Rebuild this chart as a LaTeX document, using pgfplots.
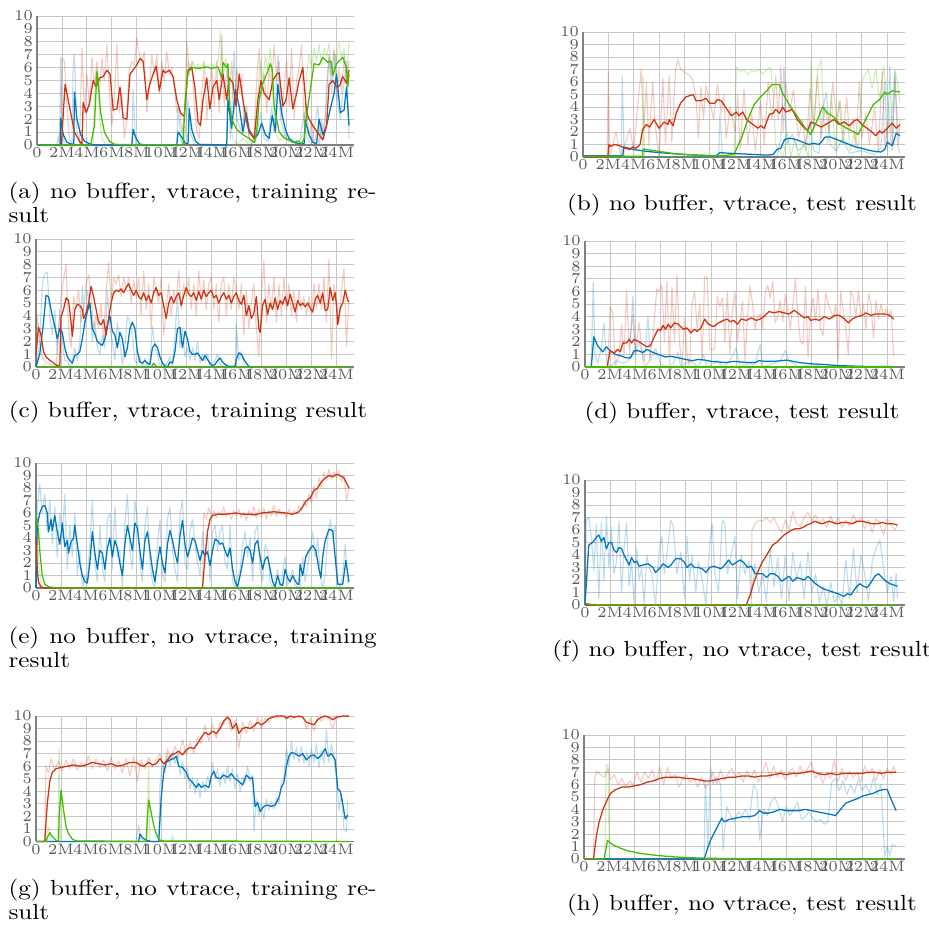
\documentclass[border=0pt]{standalone}
\usepackage{pgfplots}
\pgfplotsset{compat=1.18}
\usepackage{graphicx}
\definecolor{tbred}{RGB}{206,52,18}
\definecolor{tbblue}{RGB}{0,119,187}
\definecolor{tbgreen}{RGB}{68,187,0}
\pgfplotsset{
  tb/.style={scale only axis, anchor=south west, xmin=0, xmax=25.4, ymin=0, ymax=10,
    axis lines=left, axis line style={-, draw=black!50, line width=0.5pt},
    grid=major, major grid style={draw=black!22, line width=0.35pt},
    xtick={0,2,...,24}, xticklabels={0,2M,4M,6M,8M,10M,12M,14M,16M,18M,20M,22M,24M},
    ytick={0,1,...,10}, major tick length=0pt, tick style={draw=none},
    ticklabel style={font=\fontsize{6}{7}\selectfont, text=black!65},
    xticklabel style={inner sep=0.8pt}, yticklabel style={inner sep=1.5pt},
    clip=false, no markers, every axis plot/.append style={line join=round}},
  rr/.style={tbred, line width=0.45pt, opacity=0.25},
  rb/.style={tbblue, line width=0.45pt, opacity=0.25},
  rg/.style={tbgreen, line width=0.45pt, opacity=0.25},
  sr/.style={tbred, line width=0.5pt},
  sb/.style={tbblue, line width=0.5pt},
  sg/.style={tbgreen, line width=0.5pt},
}
\newcommand{\capt}[1]{\scalebox{1}[0.87]{#1}}
\begin{document}
\begin{tikzpicture}
\useasboundingbox (0,0) rectangle (369.24pt,-368.84pt);
% (a)
\begin{axis}[tb, at={(14.71pt,-57.63pt)}, width=126.0pt, height=51.27pt]
\addplot[rr] coordinates {(1.9,0)(2.0,6.7)(2.2,6.5)(2.4,3.0)(2.6,0.5)(2.8,0)(3.4,0)(3.6,7.5)(3.8,2.5)(4.0,5.5)(4.2,3.0)(4.4,6.8)(4.6,4.5)(4.8,6.5)(5.0,4.0)(5.2,6.7)(5.4,5.0)(5.6,7.8)(5.8,4.0)(6.0,1.5)(6.2,3.5)(6.4,7.8)(6.6,2.5)(6.8,4.0)(7.0,0.5)(7.2,2.0)(7.4,6.0)(7.6,6.5)(7.8,6.2)(8.0,8.3)(8.2,7.0)(8.4,6.5)(8.6,7.2)(8.8,2.5)(9.0,4.5)(9.2,7.0)(9.4,5.5)(9.6,7.0)(9.8,4.0)(10.0,6.5)(10.2,5.0)(10.4,7.2)(10.6,5.5)(10.8,6.0)(11.0,4.5)(11.2,2.5)(11.4,3.0)(11.6,1.0)(11.8,2.0)(12.0,8.0)(12.2,5.5)(12.4,6.5)(12.6,3.0)(12.8,1.0)(13.0,0.5)(13.2,4.0)(13.4,6.5)(13.6,2.0)(13.8,4.5)(14.0,6.0)(14.2,3.0)(14.4,6.5)(14.6,2.5)(14.8,8.5)(15.0,3.0)(15.2,6.0)(15.4,4.0)(15.6,6.5)(15.8,2.5)(16.0,6.0)(16.2,4.0)(16.4,5.5)(16.6,1.5)(16.8,3.0)(17.0,0.5)(17.2,0.0)(17.4,0.8)(17.6,5.0)(17.8,7.5)(18.0,4.0)(18.2,5.5)(18.4,2.5)(18.6,6.0)(18.8,4.5)(19.0,7.8)(19.2,5.0)(19.4,6.5)(19.6,2.0)(19.8,4.5)(20.0,6.5)(20.2,3.0)(20.4,7.5)(20.6,2.0)(20.8,5.0)(21.0,6.0)(21.2,7.8)(21.4,1.5)(21.6,3.0)(21.8,0.5)(22.0,2.0)(22.2,0.0)(22.4,1.0)(22.6,0.0)(22.8,2.0)(23.0,0.5)(23.2,4.5)(23.4,7.0)(23.6,5.0)(23.8,7.5)(24.0,3.5)(24.2,6.0)(24.4,4.0)(24.6,7.0)(24.8,4.5)(25.0,6.5)};
\addplot[rb] coordinates {(0,0)(1.6,0)(1.7,0.7)(1.8,0)(1.9,6.8)(2.0,1.0)(2.2,0)(2.8,0)(2.9,6.4)(3.0,7.0)(3.2,1.0)(3.5,0)(7.6,0)(7.7,4.3)(7.9,0)(11.2,0)(11.3,3.0)(11.5,0.5)(11.8,0)(12.1,3.5)(12.3,1.0)(12.6,0)(15.2,0)(15.3,6.0)(15.5,0.5)(15.8,7.3)(16.0,2.0)(16.4,1.0)(16.7,3.0)(17.0,0.5)(17.5,0.2)(17.9,2.5)(18.2,0.5)(18.5,0.3)(18.8,3.0)(19.0,1.0)(19.3,7.0)(19.5,2.0)(20.0,0.5)(20.5,0.2)(21.0,0)(21.4,2.5)(21.6,0.5)(22.0,0.1)(22.5,3.0)(22.7,0.5)(23.1,2.0)(23.4,6.8)(23.6,4.0)(23.9,7.0)(24.1,3.0)(24.3,2.0)(24.5,4.0)(24.8,6.5)(25.0,0.5)};
\addplot[rg] coordinates {(0,0)(4.5,0)(4.6,4.0)(4.8,6.0)(5.0,2.5)(5.2,0.5)(5.5,0)(11.6,0)(11.9,4.0)(12.1,6.5)(12.3,5.8)(12.5,6.5)(12.7,5.7)(12.9,6.3)(13.1,5.8)(13.3,6.4)(13.5,5.9)(13.7,6.2)(13.9,5.8)(14.1,6.3)(14.3,5.9)(14.5,6.5)(14.7,8.8)(14.9,5.0)(15.1,6.7)(15.3,5.8)(15.5,1.5)(15.7,0.5)(16.0,0)(16.5,0.5)(17.0,0)(17.5,0.3)(17.7,4.0)(17.9,6.5)(18.1,5.0)(18.3,7.0)(18.5,5.8)(18.7,7.5)(18.9,4.0)(19.1,1.0)(19.4,0.3)(19.8,0.8)(20.2,0.2)(20.6,0.5)(21.0,0.2)(21.4,1.0)(21.6,5.5)(21.8,7.0)(22.0,6.0)(22.2,7.5)(22.4,6.5)(22.6,7.8)(22.8,6.2)(23.0,7.5)(23.2,6.8)(23.4,7.9)(23.6,5.5)(23.8,7.2)(24.0,6.5)(24.2,8.0)(24.4,6.8)(24.6,7.5)(24.8,5.0)(25.0,8.0)};
\addplot[sb] coordinates {(0,0)(1.85,0)(1.9,2.1)(2.1,0.8)(2.4,0.2)(2.8,0.05)(2.95,0.1)(3.0,4.1)(3.2,2.0)(3.5,0.8)(3.8,0.3)(4.2,0.1)(4.6,0)(7.6,0)(7.7,1.2)(7.9,0.6)(8.2,0.1)(8.5,0)(11.2,0)(11.3,1.0)(11.6,0.6)(11.9,0.1)(12.1,0.1)(12.2,2.8)(12.4,1.2)(12.7,0.3)(13.0,0.05)(15.2,0)(15.3,3.5)(15.6,1.3)(15.9,4.3)(16.2,3.0)(16.5,1.0)(16.75,2.5)(17.0,1.2)(17.4,0.5)(17.7,0.8)(18.0,1.7)(18.3,0.8)(18.6,0.5)(18.85,2.3)(19.1,1.0)(19.3,4.7)(19.6,2.5)(19.9,1.2)(20.2,0.5)(20.6,0.2)(21.0,0.1)(21.4,0.1)(21.5,1.9)(21.8,0.8)(22.1,0.2)(22.4,0.1)(22.6,2.0)(22.9,0.8)(23.2,1.5)(23.5,2.8)(23.8,4.0)(24.0,5.5)(24.3,2.5)(24.6,2.7)(24.8,4.5)(25.0,1.5)};
\addplot[sr] coordinates {(1.95,0)(2.25,4.7)(2.6,3.0)(3.0,1.0)(3.4,0.3)(3.6,0.05)(3.7,3.3)(3.95,2.5)(4.2,3.2)(4.5,5.0)(4.75,4.5)(5.0,5.2)(5.3,5.3)(5.6,5.8)(5.85,5.5)(6.1,2.7)(6.4,2.8)(6.65,4.5)(6.9,2.1)(7.2,2.0)(7.45,5.5)(7.7,5.8)(8.0,6.2)(8.25,6.7)(8.5,6.5)(8.8,3.5)(9.0,4.6)(9.3,5.5)(9.55,6.1)(9.8,4.2)(10.1,5.8)(10.3,5.6)(10.6,5.8)(10.9,5.3)(11.2,3.5)(11.5,2.5)(11.8,2.2)(12.1,5.8)(12.4,6.0)(12.65,4.5)(12.9,1.8)(13.1,1.5)(13.3,3.5)(13.6,5.2)(13.85,2.8)(14.1,4.5)(14.4,5.0)(14.6,3.5)(14.9,5.5)(15.2,3.5)(15.4,5.2)(15.7,4.8)(15.95,3.0)(16.2,5.5)(16.5,3.5)(16.75,2.0)(17.0,1.0)(17.4,0.5)(17.7,3.5)(17.95,5.0)(18.2,4.0)(18.6,3.5)(18.9,5.0)(19.2,5.5)(19.4,5.6)(19.7,3.0)(19.95,3.5)(20.2,5.2)(20.5,2.8)(20.8,4.0)(21.0,5.0)(21.3,6.0)(21.6,2.5)(21.8,2.0)(22.1,1.5)(22.6,0.8)(22.9,0.4)(23.2,1.5)(23.4,4.7)(23.7,5.0)(24.0,4.5)(24.25,4.6)(24.5,5.3)(24.8,4.8)(25.0,5.8)};
\addplot[sg] coordinates {(0,0)(4.3,0)(4.6,1.5)(4.8,5.7)(4.95,4.3)(5.1,2.5)(5.4,1.0)(5.8,0.3)(6.2,0.05)(11.7,0)(11.85,3.0)(12.1,5.7)(12.5,6.0)(13.0,5.95)(13.5,6.05)(14.0,5.95)(14.5,6.05)(14.8,5.2)(14.9,6.4)(15.2,6.0)(15.3,6.3)(15.45,3.0)(15.6,2.0)(16.0,1.2)(16.5,0.8)(17.0,0.5)(17.4,0.2)(17.6,1.0)(17.8,3.5)(18.1,4.8)(18.4,5.5)(18.7,6.3)(18.85,5.8)(19.0,3.0)(19.4,1.0)(19.85,0.5)(20.2,0.4)(20.5,0.2)(20.9,0.3)(21.2,0.1)(21.4,0.5)(21.7,3.0)(22.0,5.0)(22.2,6.3)(22.6,6.2)(22.9,6.8)(23.3,6.4)(23.55,6.5)(23.7,5.4)(24.0,6.3)(24.5,6.8)(24.8,6.0)(24.9,4.5)(25.0,5.5)};
\end{axis}
% (b)
\begin{axis}[tb, at={(231.72pt,-62.40pt)}, width=127.98pt, height=49.68pt]
\addplot[rr] coordinates {(1.9,0)(2.0,6.8)(2.1,0)(2.6,2.0)(3.0,0)(3.7,2.3)(4.0,0.5)(4.4,5.0)(4.6,7.0)(4.8,2.0)(5.0,6.0)(5.2,1.0)(5.5,6.0)(5.7,2.5)(6.0,0)(6.3,6.3)(6.5,1.0)(6.8,6.5)(7.0,1.2)(7.3,7.0)(7.5,7.8)(7.7,7.0)(8.0,6.8)(8.3,6.6)(8.6,6.3)(8.9,5.0)(9.1,1.5)(9.3,5.6)(9.5,3.0)(9.7,5.7)(10.0,4.5)(10.3,3.0)(10.6,5.8)(10.9,3.5)(11.1,5.0)(11.3,1.5)(11.6,4.0)(12.0,2.0)(12.2,5.0)(12.4,0.5)(12.7,5.4)(13.0,1.0)(13.3,3.5)(13.6,0.5)(14.0,4.5)(14.3,1.0)(14.6,6.0)(14.9,3.0)(15.2,6.5)(15.4,3.0)(15.6,7.3)(15.8,2.0)(16.0,6.0)(16.3,3.5)(16.6,5.4)(17.0,1.5)(17.3,3.0)(17.6,0.5)(17.9,5.5)(18.2,2.5)(18.5,6.5)(18.8,1.5)(19.1,4.0)(19.4,2.0)(19.7,6.0)(20.0,3.0)(20.3,4.5)(20.5,1.5)(20.8,4.8)(21.0,2.0)(21.3,3.0)(21.5,0.8)(21.8,6.0)(22.0,1.5)(22.3,3.5)(22.6,1.0)(23.0,4.0)(23.3,0.5)(23.6,6.8)(23.8,1.0)(24.1,3.0)(24.4,0.5)(24.6,6.5)(24.9,1.0)(25.0,3.0)};
\addplot[rb] coordinates {(0,0)(3.0,0)(3.1,6.4)(3.25,0)(10.7,0)(10.8,3.5)(11.0,0)(15.3,0)(15.6,1.5)(15.85,7.2)(16.1,1.0)(16.5,1.8)(17.0,0.5)(17.5,1.0)(17.9,2.8)(18.2,0.5)(18.6,0.3)(19.0,4.3)(19.2,5.2)(19.5,1.0)(20.0,0.5)(20.5,1.5)(21.0,0.3)(22.0,0.5)(23.0,0.2)(23.5,0.8)(23.8,6.0)(24.0,0.5)(24.2,7.2)(24.4,1.0)(24.6,6.8)(24.8,1.0)(25.0,0.3)};
\addplot[rg] coordinates {(0,0)(4.7,0)(4.75,6.4)(4.85,0)(11.9,0)(12.1,7.2)(12.4,6.8)(12.7,7.0)(13.0,6.6)(13.3,6.9)(13.6,6.8)(13.9,7.0)(14.2,6.6)(14.5,7.0)(14.8,7.2)(15.0,5.0)(15.2,1.0)(15.5,0.5)(15.8,0)(16.1,2.0)(16.4,0)(16.7,1.5)(17.0,0)(17.4,1.0)(17.8,0)(18.0,7.6)(18.2,2.0)(18.5,7.0)(18.8,7.8)(19.0,3.0)(19.3,1.0)(19.6,5.0)(19.9,0.5)(20.2,4.5)(20.5,1.0)(20.8,3.0)(21.1,0.5)(21.4,2.0)(21.7,0.5)(22.0,6.0)(22.2,6.5)(22.5,7.0)(22.8,5.5)(23.1,7.0)(23.4,4.5)(23.7,7.2)(24.0,5.0)(24.3,2.0)(24.6,7.0)(24.8,6.0)(25.0,4.3)};
\addplot[sb] coordinates {(0,0.1)(3.15,0.1)(3.2,0.8)(4.0,0.6)(5.0,0.45)(6.0,0.35)(7.0,0.27)(8.0,0.2)(9.0,0.15)(10.5,0.1)(10.8,0.35)(11.5,0.3)(12.5,0.25)(13.5,0.2)(14.5,0.15)(15.0,0.2)(15.3,0.6)(15.6,0.7)(15.9,1.4)(16.3,1.5)(16.8,1.4)(17.3,1.2)(17.8,1.0)(18.2,1.1)(18.6,1.0)(18.8,1.2)(19.1,1.6)(19.5,1.6)(20.0,1.4)(20.5,1.2)(21.0,1.0)(21.5,0.8)(22.0,0.7)(22.5,0.55)(23.0,0.45)(23.5,0.4)(23.8,0.6)(24.0,1.2)(24.4,0.9)(24.7,1.9)(25.0,1.7)};
\addplot[sr] coordinates {(0,0)(1.95,0)(2.05,1.0)(2.15,0.85)(2.5,1.0)(2.9,0.9)(3.3,0.7)(3.7,0.6)(3.9,0.8)(4.2,0.7)(4.5,1.0)(4.7,2.2)(5.0,2.6)(5.25,2.4)(5.6,3.0)(6.0,2.3)(6.4,2.8)(6.7,2.6)(6.8,3.0)(7.1,2.5)(7.35,3.5)(7.7,4.3)(8.1,4.8)(8.7,5.0)(8.9,4.5)(9.3,4.5)(9.7,4.7)(10.0,4.3)(10.4,4.3)(10.6,4.6)(10.9,4.5)(11.3,3.9)(11.7,3.3)(12.1,3.6)(12.3,3.3)(12.6,3.6)(12.9,3.0)(13.4,2.6)(13.8,2.3)(14.0,2.5)(14.3,2.3)(14.7,3.4)(15.0,3.5)(15.2,3.8)(15.5,3.5)(15.75,4.0)(16.0,3.6)(16.5,3.8)(16.9,3.0)(17.3,2.5)(17.7,2.1)(18.0,2.8)(18.4,2.6)(18.8,2.4)(19.3,2.7)(19.8,3.0)(20.2,2.6)(20.6,2.8)(21.0,2.5)(21.4,2.9)(21.65,3.0)(22.0,2.6)(22.4,2.3)(22.8,2.0)(23.1,1.7)(23.4,2.1)(23.6,1.9)(24.0,2.3)(24.4,2.7)(24.7,2.3)(25.0,2.6)};
\addplot[sg] coordinates {(0,0.05)(4.7,0.05)(4.75,0.65)(5.0,0.6)(6.0,0.45)(7.0,0.3)(8.0,0.2)(9.0,0.15)(10.0,0.1)(11.0,0.1)(11.9,0.2)(12.5,1.5)(13.0,3.0)(13.5,4.2)(14.0,4.8)(14.5,5.3)(14.9,5.8)(15.5,5.8)(15.7,5.2)(16.2,4.3)(16.8,3.4)(17.4,2.5)(17.95,1.8)(18.5,3.0)(18.9,4.0)(19.3,3.5)(19.8,3.2)(20.3,2.6)(20.8,2.3)(21.4,2.0)(21.7,1.8)(22.3,3.0)(22.9,4.2)(23.4,4.6)(23.8,5.2)(24.0,5.0)(24.4,5.3)(25.0,5.2)};
\end{axis}
% (c)
\begin{axis}[tb, at={(14.31pt,-145.87pt)}, width=126.39pt, height=50.87pt]
\addplot[rr] coordinates {(0,0)(0.1,4.0)(0.3,2.0)(0.5,0.8)(0.8,0.3)(1.2,0.2)(1.6,0)(2.0,5.5)(2.2,6.8)(2.4,8.0)(2.6,3.0)(2.8,1.5)(3.0,5.5)(3.2,4.5)(3.4,6.0)(3.6,3.5)(3.8,4.5)(4.0,6.5)(4.2,7.2)(4.4,5.5)(4.6,3.0)(4.8,4.0)(5.0,3.0)(5.2,5.0)(5.4,2.0)(5.6,6.0)(5.8,8.2)(6.0,5.0)(6.2,7.0)(6.4,6.5)(6.6,7.2)(6.8,5.5)(7.0,7.0)(7.2,6.0)(7.4,7.0)(7.6,5.0)(7.8,6.8)(8.0,5.5)(8.2,7.0)(8.4,4.0)(8.6,7.5)(8.8,4.5)(9.0,6.5)(9.2,3.0)(9.4,7.0)(9.6,6.0)(9.8,5.0)(10.0,7.0)(10.2,2.5)(10.4,4.5)(10.6,6.5)(10.8,4.0)(11.0,6.0)(11.2,5.0)(11.4,7.5)(11.6,4.5)(11.8,6.5)(12.0,5.5)(12.2,7.0)(12.4,4.5)(12.6,6.5)(12.8,4.0)(13.0,7.5)(13.2,5.0)(13.4,6.8)(13.6,4.5)(13.8,6.5)(14.0,7.0)(14.2,4.5)(14.4,6.5)(14.6,3.5)(14.8,6.5)(15.0,7.0)(15.2,4.0)(15.4,6.5)(15.6,4.5)(15.8,7.0)(16.0,6.0)(16.2,4.5)(16.4,6.5)(16.6,2.5)(16.8,6.0)(17.0,3.0)(17.2,5.0)(17.4,6.5)(17.6,3.0)(17.8,0.8)(18.0,5.5)(18.2,8.3)(18.4,3.5)(18.6,6.5)(18.8,4.5)(19.0,7.0)(19.2,3.5)(19.4,6.5)(19.6,4.0)(19.8,7.0)(20.0,4.5)(20.2,6.5)(20.4,4.0)(20.6,6.0)(20.8,3.5)(21.0,6.0)(21.2,4.5)(21.4,5.5)(21.6,4.0)(21.8,5.5)(22.0,4.0)(22.2,6.5)(22.4,4.5)(22.6,6.5)(22.8,4.5)(23.0,7.0)(23.2,3.5)(23.4,8.4)(23.6,0.7)(23.8,6.5)(24.0,5.0)(24.2,3.5)(24.4,6.0)(24.6,7.7)(24.8,1.6)(25.0,5.5)};
\addplot[rb] coordinates {(0,0)(0.3,2.0)(0.5,6.5)(0.7,7.3)(0.9,7.4)(1.1,4.0)(1.3,2.5)(1.5,4.5)(1.7,1.0)(1.9,4.5)(2.1,2.0)(2.3,0.5)(2.5,0.5)(2.7,0.0)(2.9,0.5)(3.1,1.5)(3.3,0.5)(3.5,2.0)(3.7,6.3)(3.9,3.0)(4.1,6.0)(4.3,5.0)(4.5,2.0)(4.7,3.5)(4.9,1.5)(5.1,1.0)(5.3,2.5)(5.5,1.5)(5.7,6.0)(5.9,3.0)(6.1,2.0)(6.3,0.5)(6.5,3.5)(6.7,2.0)(6.9,0.2)(7.1,1.5)(7.3,4.0)(7.5,3.5)(7.7,2.5)(7.9,0.5)(8.1,0.3)(8.3,0.8)(8.5,0.0)(8.7,0.7)(8.9,0.0)(9.1,0.5)(9.3,3.2)(9.5,1.5)(9.7,1.0)(9.9,0.0)(10.1,0.3)(10.3,0.0)(10.7,0.8)(10.9,0.0)(11.1,2.5)(11.3,5.5)(11.5,1.5)(11.7,3.0)(11.9,0.8)(12.1,1.5)(12.3,0.5)(12.5,1.5)(12.7,0.5)(12.9,2.0)(13.1,0.3)(13.3,1.0)(13.5,0.5)(13.7,1.0)(13.9,0.0)(14.3,0.5)(14.5,1.0)(14.7,0.2)(15.0,0.0)(15.9,0.0)(16.0,3.3)(16.2,0.5)(16.4,1.2)(16.6,0.3)(16.8,0.0)(17.2,0.0)};
\addplot[sb] coordinates {(0,0)(0.3,1.0)(0.6,3.5)(0.8,5.6)(1.0,5.5)(1.3,4.0)(1.5,3.2)(1.7,2.2)(1.9,3.0)(2.1,2.7)(2.3,1.5)(2.5,0.8)(2.7,0.5)(2.9,0.3)(3.1,0.9)(3.3,1.0)(3.5,1.2)(3.7,2.2)(3.9,3.5)(4.1,4.3)(4.3,5.0)(4.5,3.0)(4.7,2.6)(4.9,2.0)(5.1,1.8)(5.3,1.7)(5.5,2.2)(5.7,3.3)(5.9,4.0)(6.1,2.8)(6.3,2.5)(6.5,1.5)(6.7,2.7)(6.9,2.2)(7.1,0.8)(7.3,1.5)(7.5,3.0)(7.7,3.5)(7.9,3.0)(8.1,1.2)(8.3,0.4)(8.5,0.3)(8.7,0.5)(8.9,0.3)(9.1,0.2)(9.3,1.5)(9.5,1.8)(9.7,1.5)(9.9,0.8)(10.1,0.3)(10.3,0.1)(10.5,0.0)(10.7,0.4)(10.9,0.3)(11.1,1.2)(11.3,3.0)(11.5,3.1)(11.7,1.5)(11.9,2.8)(12.1,2.2)(12.3,1.2)(12.5,1.0)(12.7,1.0)(12.9,1.1)(13.1,0.8)(13.3,0.5)(13.5,0.9)(13.7,0.6)(13.9,0.3)(14.1,0.1)(14.3,0.2)(14.5,0.5)(14.7,0.7)(14.9,0.4)(15.1,0.2)(15.4,0.05)(15.9,0.05)(16.0,0.6)(16.2,1.1)(16.4,1.0)(16.6,0.6)(16.8,0.3)(17.0,0.05)(17.3,0.0)};
\addplot[sr] coordinates {(0,1.0)(0.2,3.1)(0.4,2.5)(0.6,1.2)(0.8,0.8)(1.0,0.6)(1.3,0.4)(1.6,0.15)(1.9,0.1)(2.0,3.9)(2.2,4.5)(2.4,5.4)(2.6,5.2)(2.8,3.5)(2.9,2.4)(3.1,4.5)(3.3,4.9)(3.5,4.8)(3.7,4.5)(3.8,3.8)(4.0,4.2)(4.2,5.0)(4.4,6.3)(4.6,5.5)(4.8,4.5)(5.0,3.5)(5.2,3.3)(5.4,3.7)(5.6,2.5)(5.8,3.8)(6.0,5.0)(6.2,5.8)(6.4,6.0)(6.6,5.9)(6.8,6.1)(7.0,5.8)(7.2,6.2)(7.4,6.5)(7.6,6.0)(7.8,5.6)(8.0,6.0)(8.2,5.5)(8.4,5.3)(8.6,5.8)(8.8,5.2)(9.0,5.6)(9.2,5.0)(9.4,5.8)(9.6,6.2)(9.8,5.6)(10.0,5.8)(10.2,4.8)(10.4,3.8)(10.6,5.0)(10.8,5.5)(11.0,5.0)(11.2,5.5)(11.4,5.8)(11.6,4.8)(11.8,5.6)(12.0,6.2)(12.2,5.7)(12.4,5.5)(12.6,5.8)(12.8,5.2)(13.0,5.9)(13.2,5.3)(13.4,6.0)(13.6,5.5)(13.8,5.8)(14.0,6.0)(14.2,5.4)(14.4,5.6)(14.6,5.0)(14.8,5.5)(15.0,5.8)(15.2,5.3)(15.4,5.6)(15.6,5.0)(15.8,5.5)(16.0,5.8)(16.2,5.2)(16.4,4.9)(16.6,5.6)(16.8,4.0)(17.0,4.8)(17.2,3.8)(17.4,4.2)(17.6,5.5)(17.8,3.0)(17.9,2.7)(18.1,4.8)(18.3,5.3)(18.5,4.1)(18.7,5.0)(18.9,4.5)(19.1,5.4)(19.3,4.5)(19.5,5.2)(19.7,4.9)(19.9,5.5)(20.1,4.8)(20.3,5.7)(20.5,5.0)(20.7,4.3)(20.9,5.2)(21.1,4.8)(21.3,5.0)(21.5,4.7)(21.7,5.0)(21.9,4.6)(22.1,4.3)(22.3,5.3)(22.5,5.6)(22.7,5.0)(22.9,5.8)(23.1,4.4)(23.3,4.5)(23.5,6.2)(23.7,5.2)(23.9,5.8)(24.0,4.8)(24.1,3.3)(24.3,4.6)(24.5,5.0)(24.7,6.0)(24.9,5.2)(25.0,5.1)};
\addplot[sg] coordinates {(0,0)(9.2,0)(9.4,0.3)(9.6,0.05)(9.8,0)(25.0,0)};
\end{axis}
% (d)
\begin{axis}[tb, at={(232.51pt,-145.87pt)}, width=127.19pt, height=50.08pt]
\addplot[rr] coordinates {(1.8,0)(2.0,4.8)(2.2,4.3)(2.4,0)(2.7,1.0)(2.9,3.4)(3.1,1.0)(3.3,6.1)(3.5,1.5)(3.8,4.2)(4.0,1.0)(4.3,3.5)(4.6,0.5)(4.8,0)(5.1,0.5)(5.4,2.5)(5.7,6.2)(5.9,6.0)(6.1,6.5)(6.3,2.0)(6.5,6.8)(6.7,0.3)(6.9,6.3)(7.1,2.0)(7.3,7.3)(7.5,2.0)(7.7,0.0)(7.9,3.9)(8.1,1.0)(8.3,0)(8.5,5.0)(8.7,6.0)(8.9,3.0)(9.1,5.0)(9.3,0.5)(9.5,7.2)(9.7,7.1)(9.9,1.5)(10.1,1.3)(10.3,1.5)(10.5,5.6)(10.7,4.8)(10.9,5.5)(11.1,2.0)(11.3,6.0)(11.5,1.0)(11.7,4.5)(11.9,6.0)(12.1,2.0)(12.3,3.5)(12.5,5.2)(12.7,0.5)(12.9,4.0)(13.1,6.4)(13.3,5.0)(13.5,3.0)(13.7,4.0)(13.9,4.2)(14.1,3.0)(14.3,5.8)(14.5,6.5)(14.7,5.5)(14.9,6.8)(15.1,3.5)(15.3,4.0)(15.5,5.3)(15.7,3.6)(15.9,5.8)(16.1,4.5)(16.3,3.0)(16.5,5.0)(16.7,7.0)(16.9,4.0)(17.1,2.0)(17.3,1.8)(17.5,6.4)(17.7,0.8)(17.9,4.2)(18.1,5.5)(18.3,3.6)(18.5,6.2)(18.7,3.0)(18.9,2.5)(19.1,5.9)(19.3,5.0)(19.5,4.5)(19.7,3.8)(19.9,5.0)(20.1,0.5)(20.3,6.0)(20.5,4.5)(20.7,3.0)(20.9,1.0)(21.1,6.0)(21.3,5.5)(21.5,4.0)(21.7,6.0)(21.9,4.0)(22.1,5.0)(22.3,3.0)(22.5,5.8)(22.7,5.0)(22.9,2.3)(23.1,5.3)(23.3,3.8)(23.5,5.0)(23.7,4.0)(23.9,4.6)(24.1,4.0)(24.3,4.5)(24.5,0.8)};
\addplot[rb] coordinates {(0.5,0)(0.65,6.7)(0.8,1.0)(1.0,0.3)(1.3,1.5)(1.5,3.5)(1.7,0.5)(2.0,0)(2.5,0.5)(3.0,0.3)(3.5,0.5)(3.8,5.6)(4.0,1.0)(4.3,2.0)(4.7,0.5)(5.0,4.0)(5.2,0.5)(5.6,1.5)(6.0,0.2)(6.5,0.0)(7.0,0.3)(7.4,1.2)(7.6,0.0)(8.3,0.5)(9.0,0.0)(9.4,1.0)(9.7,0.0)(10.5,0.5)(11.0,0.0)(11.5,0.5)(12.0,1.5)(12.3,0.0)(13.0,0.3)(13.5,0.2)(13.9,1.8)(14.1,0.0)(15.0,0.3)(15.5,0.5)(15.9,1.3)(16.2,0.5)(17.0,0.0)(18.0,0.2)(19.0,0.0)(24.5,0)};
\addplot[sb] coordinates {(0,0)(0.5,0)(0.7,2.4)(1.0,1.7)(1.4,1.2)(1.7,1.6)(2.0,1.3)(2.4,1.0)(2.8,0.9)(3.2,0.75)(3.6,0.7)(3.9,1.3)(4.2,1.3)(4.6,1.15)(4.9,1.4)(5.3,1.2)(5.8,1.0)(6.4,0.8)(6.8,0.85)(7.3,0.75)(8.0,0.6)(8.5,0.5)(9.0,0.6)(9.5,0.55)(10.0,0.45)(10.6,0.4)(11.2,0.35)(11.8,0.45)(12.4,0.4)(13.0,0.35)(13.5,0.35)(13.8,0.5)(14.3,0.45)(15.0,0.45)(15.6,0.5)(16.0,0.55)(16.5,0.45)(17.0,0.35)(17.5,0.3)(18.0,0.25)(19.0,0.2)(20.0,0.12)(21.0,0.08)(22.0,0.05)(24.5,0.03)};
\addplot[sr] coordinates {(0,0)(1.75,0)(2.0,1.3)(2.3,1.1)(2.6,1.4)(2.8,1.2)(3.0,1.9)(3.3,1.9)(3.5,2.2)(3.7,1.9)(3.9,2.2)(4.3,2.0)(4.6,1.8)(4.9,1.6)(5.2,1.7)(5.5,2.4)(5.8,3.0)(6.0,2.9)(6.2,3.3)(6.4,3.0)(6.6,3.4)(6.8,3.1)(7.1,3.5)(7.4,3.4)(7.8,3.0)(8.1,3.1)(8.4,2.7)(8.7,3.0)(8.9,2.8)(9.2,3.1)(9.5,3.8)(9.8,3.4)(10.2,3.2)(10.6,3.5)(11.0,3.7)(11.3,3.8)(11.5,3.6)(11.8,3.7)(12.1,3.4)(12.4,3.8)(12.8,3.7)(13.2,3.9)(13.6,3.7)(13.9,3.8)(14.2,4.0)(14.6,4.4)(15.0,4.3)(15.4,4.4)(15.8,4.3)(16.2,4.2)(16.6,4.5)(17.0,4.2)(17.4,3.9)(17.7,4.0)(17.9,3.7)(18.3,3.8)(18.6,3.7)(19.0,4.0)(19.4,3.8)(19.8,4.1)(20.2,4.1)(20.6,3.8)(20.9,3.5)(21.2,3.8)(21.6,4.0)(22.0,4.1)(22.3,4.3)(22.7,4.1)(23.0,4.2)(23.4,4.2)(23.8,4.2)(24.2,4.1)(24.5,3.8)};
\addplot[sg] coordinates {(0,0)(24.5,0)};
\end{axis}
% (e)
\begin{axis}[tb, at={(14.31pt,-233.71pt)}, width=126.39pt, height=49.68pt]
\addplot[rr] coordinates {(0,4.0)(0.1,1.0)(0.3,0)(13.3,0)(13.4,6.0)(13.6,5.5)(13.8,6.4)(14.0,5.7)(14.2,6.2)(14.4,5.6)(14.6,6.1)(14.8,5.8)(15.0,6.5)(15.2,5.7)(15.4,6.0)(15.6,5.5)(15.8,6.2)(16.0,5.8)(16.2,6.3)(16.4,5.6)(16.6,6.1)(16.8,5.4)(17.0,6.2)(17.2,5.8)(17.4,6.5)(17.6,5.6)(17.8,6.3)(18.0,5.7)(18.2,6.4)(18.4,5.5)(18.6,6.2)(18.8,5.8)(19.0,6.6)(19.2,5.7)(19.4,6.3)(19.6,5.9)(19.8,6.1)(20.0,5.6)(20.2,6.3)(20.4,5.8)(20.6,6.2)(20.8,5.9)(21.0,6.6)(21.2,6.2)(21.4,7.0)(21.6,6.5)(21.8,7.5)(22.0,6.8)(22.2,8.2)(22.4,7.2)(22.6,8.8)(22.8,8.0)(23.0,9.3)(23.2,8.6)(23.4,9.5)(23.6,8.7)(23.8,9.3)(24.0,8.8)(24.2,9.4)(24.4,8.5)(24.6,9.0)(24.8,7.0)(25.0,8.0)};
\addplot[rb] coordinates {(0,0)(0.1,6.5)(0.3,8.3)(0.5,6.0)(0.7,7.5)(0.9,4.5)(1.1,7.0)(1.3,3.5)(1.5,6.5)(1.7,2.5)(1.9,6.0)(2.1,4.0)(2.3,7.5)(2.5,1.5)(2.7,5.0)(2.9,2.5)(3.1,6.0)(3.3,1.0)(3.5,3.0)(3.7,0.0)(3.9,1.0)(4.1,0.5)(4.3,3.5)(4.5,7.0)(4.7,2.0)(4.9,0.5)(5.1,5.0)(5.3,1.5)(5.5,0.5)(5.7,5.5)(5.9,6.0)(6.1,1.5)(6.3,6.5)(6.5,2.5)(6.7,3.0)(6.9,0.0)(7.1,5.0)(7.3,7.5)(7.5,3.0)(7.7,1.5)(7.9,7.0)(8.1,5.5)(8.3,2.0)(8.5,0.5)(8.7,5.0)(8.9,6.5)(9.1,2.0)(9.3,0.5)(9.5,0.0)(9.7,3.5)(9.9,5.5)(10.1,1.0)(10.3,0.5)(10.5,5.5)(10.7,6.5)(10.9,3.0)(11.1,1.5)(11.3,0.5)(11.5,6.0)(11.7,7.0)(11.9,2.0)(12.1,1.5)(12.3,4.5)(12.5,5.5)(12.7,3.5)(12.9,2.0)(13.1,1.0)(13.3,4.5)(13.5,2.0)(13.7,4.5)(13.9,0.5)(14.1,4.5)(14.3,5.0)(14.5,3.0)(14.7,4.5)(14.9,5.0)(15.1,2.0)(15.3,1.5)(15.5,5.0)(15.7,0.5)(15.9,0.0)(16.3,1.5)(16.5,3.5)(16.7,4.5)(16.9,2.5)(17.1,4.0)(17.3,0.5)(17.5,4.5)(17.7,5.0)(17.9,1.5)(18.1,0.5)(18.3,3.5)(18.5,3.0)(18.7,0.5)(18.9,0.0)(19.3,1.5)(19.5,0.0)(19.9,2.5)(20.1,0.2)(20.5,1.5)(20.7,0.2)(21.1,0.0)(21.3,2.5)(21.5,0.5)(21.9,3.0)(22.1,4.5)(22.3,2.5)(22.5,4.0)(22.7,1.0)(22.9,0.0)(23.1,1.0)(23.3,4.0)(23.5,5.5)(23.7,4.0)(23.9,5.0)(24.1,0.5)(24.3,0.0)(24.5,1.0)(24.7,3.5)(24.9,0.3)};
\addplot[rg] coordinates {(0,6.2)(0.1,4.5)(0.2,2.0)(0.4,0.5)(0.6,0)};
\addplot[sb] coordinates {(0,0)(0.1,5.0)(0.3,6.0)(0.5,6.5)(0.7,6.6)(0.9,6.0)(1.0,4.5)(1.2,5.5)(1.3,4.6)(1.5,5.8)(1.7,4.5)(1.9,3.5)(2.1,5.2)(2.3,3.3)(2.5,3.8)(2.6,2.8)(2.8,3.7)(3.0,4.0)(3.1,5.0)(3.3,3.5)(3.5,2.0)(3.7,1.0)(3.9,0.5)(4.1,0.4)(4.3,2.0)(4.5,4.5)(4.7,2.8)(4.9,1.5)(5.1,3.0)(5.3,2.8)(5.5,1.5)(5.7,3.2)(5.9,4.0)(6.1,2.5)(6.3,3.8)(6.5,3.2)(6.7,2.0)(6.9,1.0)(7.1,3.5)(7.3,5.0)(7.5,4.0)(7.7,3.0)(7.9,5.2)(8.1,4.8)(8.3,3.0)(8.5,1.5)(8.7,3.8)(8.9,4.5)(9.1,3.0)(9.3,1.5)(9.5,0.5)(9.7,2.0)(9.9,3.3)(10.1,2.0)(10.3,1.2)(10.5,3.5)(10.7,4.6)(10.9,3.8)(11.1,2.8)(11.3,2.0)(11.5,4.2)(11.7,5.4)(11.9,3.5)(12.1,2.5)(12.3,3.2)(12.5,4.0)(12.7,3.8)(12.9,3.0)(13.1,2.2)(13.3,3.0)(13.5,2.6)(13.7,2.9)(13.9,1.8)(14.1,3.0)(14.3,3.9)(14.5,3.8)(14.7,3.5)(14.9,3.6)(15.1,3.0)(15.3,2.5)(15.5,3.2)(15.7,1.5)(15.9,0.5)(16.1,0.1)(16.3,1.0)(16.5,2.0)(16.7,3.2)(16.9,3.3)(17.1,3.0)(17.3,2.0)(17.5,3.5)(17.7,3.8)(17.9,2.5)(18.1,1.5)(18.3,2.3)(18.5,2.5)(18.7,1.5)(18.9,0.5)(19.1,0.1)(19.3,1.0)(19.5,0.3)(19.7,0.2)(19.9,1.5)(20.1,0.8)(20.3,0.5)(20.5,1.0)(20.7,0.6)(20.9,0.3)(21.0,0.3)(21.1,1.9)(21.3,1.0)(21.55,2.5)(21.8,3.0)(22.1,3.4)(22.35,3.0)(22.6,1.5)(22.75,0.8)(22.9,2.5)(23.1,3.8)(23.4,4.7)(23.7,4.6)(23.8,3.5)(24.1,0.3)(24.5,0.3)(24.75,2.2)(25.0,0.5)};
\addplot[sr] coordinates {(0,4.1)(0.1,1.5)(0.2,0.5)(0.4,0.1)(0.7,0)(13.3,0)(13.5,2.5)(13.7,4.5)(13.9,5.5)(14.1,5.8)(14.5,5.9)(15.0,5.9)(15.5,5.95)(16.0,6.0)(16.5,5.9)(17.0,5.9)(17.5,5.85)(18.0,6.0)(18.5,6.05)(19.0,6.1)(19.5,6.05)(20.0,6.0)(20.5,5.9)(21.0,6.1)(21.3,6.5)(21.6,7.0)(21.9,7.2)(22.2,7.8)(22.5,8.0)(22.8,8.5)(23.1,8.8)(23.4,9.0)(23.7,8.9)(24.0,9.1)(24.3,9.0)(24.6,8.8)(24.8,8.4)(25.0,8.0)};
\addplot[sg] coordinates {(0,5.6)(0.1,5.5)(0.2,4.5)(0.3,3.0)(0.5,1.0)(0.7,0.3)(1.0,0.1)(1.5,0.03)(2.0,0)(25.0,0)};
\end{axis}
% (f)
\begin{axis}[tb, at={(232.51pt,-240.46pt)}, width=127.19pt, height=49.68pt]
\addplot[rr] coordinates {(0,0)(13.2,0)(13.25,6.0)(13.5,6.5)(13.8,6.8)(14.1,6.7)(14.4,7.0)(14.7,6.6)(15.0,7.0)(15.3,6.3)(15.6,5.8)(15.9,6.8)(16.2,6.0)(16.5,7.5)(16.8,6.5)(17.1,6.3)(17.4,7.0)(17.7,7.4)(18.0,6.7)(18.3,7.2)(18.6,6.5)(18.9,6.9)(19.2,6.2)(19.5,7.1)(19.8,6.4)(20.1,7.0)(20.4,6.2)(20.7,6.8)(21.0,6.3)(21.3,7.2)(21.6,6.6)(21.9,7.0)(22.2,6.1)(22.5,6.8)(22.8,5.8)(23.1,6.9)(23.4,6.5)(23.7,5.6)(24.0,6.9)(24.3,6.4)(24.6,6.0)(24.8,6.4)};
\addplot[rb] coordinates {(0,0)(0.1,6.8)(0.3,7.0)(0.5,5.5)(0.7,2.8)(0.9,6.5)(1.1,0.5)(1.3,6.6)(1.5,2.0)(1.7,7.1)(1.9,3.0)(2.1,6.2)(2.3,2.5)(2.5,3.5)(2.7,6.7)(2.9,1.0)(3.1,4.5)(3.3,6.6)(3.5,1.5)(3.7,3.5)(3.9,0.0)(4.1,4.6)(4.3,2.0)(4.5,3.0)(4.7,0.0)(4.9,4.0)(5.1,3.0)(5.3,2.5)(5.6,0.0)(5.9,4.5)(6.1,5.5)(6.3,2.5)(6.5,4.0)(6.8,6.8)(7.0,6.3)(7.3,2.5)(7.6,4.2)(7.9,0.5)(8.1,5.5)(8.3,2.0)(8.5,4.0)(8.8,1.0)(9.0,3.5)(9.3,2.0)(9.6,0.0)(9.9,5.0)(10.1,6.5)(10.3,2.5)(10.6,1.0)(10.9,6.8)(11.1,6.5)(11.3,2.5)(11.6,4.0)(11.9,5.5)(12.1,0.5)(12.4,4.0)(12.7,2.5)(13.0,3.5)(13.2,0.5)(13.5,3.3)(13.8,1.0)(14.1,2.5)(14.4,0.3)(14.7,4.5)(15.0,1.5)(15.3,3.8)(15.6,0.5)(15.9,4.0)(16.2,0.3)(16.5,4.2)(16.8,2.0)(17.1,3.5)(17.4,0.5)(17.7,4.3)(18.0,1.0)(18.3,2.5)(18.6,0.2)(18.9,1.5)(19.2,0.0)(19.5,1.8)(19.8,0.2)(20.1,0.8)(20.4,0.0)(20.7,3.6)(21.0,0.5)(21.3,4.5)(21.6,1.0)(21.9,4.0)(22.2,2.5)(22.5,0.3)(22.8,3.5)(23.1,4.5)(23.4,5.2)(23.7,3.0)(24.0,1.0)(24.3,2.3)(24.5,0.3)(24.7,2.5)(24.8,0.5)};
\addplot[sb] coordinates {(0,0)(0.3,4.8)(0.6,5.0)(0.9,5.4)(1.1,5.6)(1.3,5.1)(1.5,5.4)(1.7,4.5)(1.9,5.0)(2.1,5.0)(2.3,4.4)(2.5,4.2)(2.7,4.6)(2.9,4.5)(3.1,4.0)(3.3,3.6)(3.5,3.2)(3.7,3.8)(3.9,3.4)(4.1,3.5)(4.3,3.1)(4.6,3.2)(5.0,3.3)(5.4,3.0)(5.6,2.6)(5.9,2.9)(6.2,3.3)(6.6,3.0)(6.9,3.3)(7.2,3.7)(7.6,3.7)(7.9,3.4)(8.1,3.0)(8.4,3.3)(8.7,3.0)(9.0,3.0)(9.3,2.9)(9.6,2.6)(9.9,3.0)(10.2,3.1)(10.5,3.0)(10.8,2.9)(11.1,3.2)(11.4,3.6)(11.7,3.2)(12.0,3.4)(12.3,3.6)(12.6,3.4)(12.9,3.0)(13.2,3.1)(13.5,2.5)(13.8,2.5)(14.1,2.5)(14.4,2.2)(14.7,2.5)(15.0,2.5)(15.3,2.3)(15.6,1.9)(15.9,2.1)(16.2,2.3)(16.5,1.9)(16.8,2.2)(17.1,2.1)(17.4,2.0)(17.7,2.3)(18.0,2.0)(18.3,1.7)(18.6,1.5)(18.9,1.3)(19.2,1.2)(19.5,1.1)(19.8,1.0)(20.1,0.9)(20.4,0.75)(20.6,0.7)(20.8,0.9)(21.1,0.8)(21.5,1.4)(21.8,1.7)(22.1,1.5)(22.4,1.4)(22.7,1.8)(23.0,2.3)(23.3,2.5)(23.6,2.2)(23.9,1.9)(24.2,1.7)(24.5,1.6)(24.8,1.5)};
\addplot[sr] coordinates {(0,0)(12.8,0)(13.1,0.8)(13.4,1.8)(13.7,2.6)(14.0,3.3)(14.3,3.8)(14.6,4.3)(14.9,4.8)(15.2,5.0)(15.5,5.3)(15.8,5.6)(16.1,5.8)(16.4,6.0)(16.7,6.1)(17.0,6.1)(17.3,6.2)(17.6,6.4)(17.9,6.5)(18.2,6.7)(18.5,6.6)(18.8,6.5)(19.1,6.6)(19.4,6.7)(19.7,6.6)(20.0,6.5)(20.4,6.6)(20.8,6.6)(21.2,6.5)(21.6,6.7)(22.0,6.7)(22.4,6.6)(22.8,6.5)(23.2,6.5)(23.6,6.6)(24.0,6.5)(24.4,6.5)(24.8,6.4)};
\addplot[sg] coordinates {(0,0.15)(0.2,0.1)(0.5,0.05)(1.0,0.02)(24.8,0)};
\end{axis}
% (g)
\begin{axis}[tb, at={(14.31pt,-334.46pt)}, width=126.39pt, height=49.88pt]
\addplot[rr] coordinates {(0.7,0)(0.8,6.0)(1.0,5.5)(1.2,6.6)(1.5,5.7)(1.8,6.4)(2.1,5.6)(2.4,6.5)(2.7,5.8)(3.0,6.6)(3.3,5.7)(3.6,6.3)(3.9,5.9)(4.2,6.8)(4.5,5.8)(4.8,6.6)(5.1,5.9)(5.4,6.5)(5.7,5.6)(6.0,6.7)(6.3,5.8)(6.6,6.4)(6.9,5.5)(7.2,6.6)(7.5,5.2)(7.8,6.8)(8.1,4.8)(8.4,6.5)(8.7,5.8)(9.0,6.7)(9.3,5.9)(9.6,6.5)(9.9,7.0)(10.2,5.8)(10.5,7.4)(10.8,6.5)(11.1,7.6)(11.4,6.7)(11.7,8.1)(12.0,6.9)(12.3,7.9)(12.6,7.0)(12.9,8.3)(13.2,7.8)(13.5,9.3)(13.8,8.0)(14.1,9.4)(14.4,8.2)(14.7,9.5)(15.0,9.3)(15.3,10.0)(15.6,8.8)(15.9,9.7)(16.2,7.4)(16.5,9.5)(16.8,8.6)(17.1,9.6)(17.4,8.8)(17.7,9.9)(18.0,9.0)(18.3,9.8)(18.6,9.5)(18.9,10.0)(19.2,9.8)(19.5,10.0)(19.8,9.9)(20.1,10.0)(20.4,9.7)(20.7,10.0)(21.0,9.9)(21.3,10.0)(21.6,9.0)(21.9,9.8)(22.2,8.8)(22.5,9.9)(22.8,9.6)(23.1,10.0)(23.4,9.8)(23.7,9.0)(24.0,10.0)(24.3,9.9)(24.6,10.0)(24.9,9.9)(25.0,10.0)};
\addplot[rb] coordinates {(8.0,0)(8.2,1.3)(8.4,0.2)(8.8,0)(9.8,0)(9.9,4.5)(10.1,6.0)(10.3,5.5)(10.5,7.0)(10.7,6.0)(10.9,7.2)(11.1,6.2)(11.3,6.9)(11.5,5.3)(11.7,6.4)(11.9,5.0)(12.1,5.9)(12.3,4.2)(12.5,5.1)(12.7,3.8)(12.9,5.0)(13.1,3.5)(13.3,4.8)(13.5,4.0)(13.7,5.2)(13.9,4.5)(14.1,6.3)(14.3,5.0)(14.5,5.8)(14.7,4.4)(14.9,5.6)(15.1,4.6)(15.3,6.0)(15.5,4.8)(15.7,5.8)(15.9,4.2)(16.1,5.4)(16.3,4.0)(16.5,5.2)(16.7,4.6)(16.9,6.0)(17.1,4.8)(17.3,5.3)(17.4,0.8)(17.6,3.4)(17.8,2.0)(18.0,3.0)(18.2,1.8)(18.4,3.4)(18.6,2.5)(18.8,3.2)(19.0,2.6)(19.2,3.5)(19.4,3.0)(19.6,4.8)(19.8,5.0)(20.0,7.5)(20.2,6.0)(20.4,8.0)(20.6,6.5)(20.8,7.5)(21.0,6.3)(21.2,7.6)(21.4,6.2)(21.6,7.2)(21.8,6.0)(22.0,7.4)(22.2,6.3)(22.4,7.8)(22.6,5.9)(22.8,7.3)(23.0,6.2)(23.2,8.9)(23.4,6.3)(23.6,7.8)(23.8,6.5)(24.0,5.0)(24.2,2.5)(24.4,3.8)(24.6,1.0)(24.8,0.8)(24.9,3.2)};
\addplot[rg] coordinates {(0,0)(0.8,0)(1.0,1.2)(1.2,0)(1.75,0)(1.85,7.4)(1.95,0)(8.85,0)(9.0,6.5)(9.1,0)(10.8,0)(10.9,0.5)(11.0,0)(25.0,0)};
\addplot[sb] coordinates {(0,0)(8.2,0)(8.3,0.6)(8.5,0.3)(8.8,0.1)(9.2,0)(9.8,0)(10.0,3.5)(10.2,5.5)(10.4,6.3)(10.7,6.5)(11.0,6.6)(11.2,6.8)(11.4,6.0)(11.7,5.9)(12.0,5.5)(12.2,5.0)(12.5,4.7)(12.8,4.3)(13.0,4.6)(13.2,4.3)(13.5,4.5)(13.8,4.3)(14.0,5.2)(14.2,5.6)(14.4,5.1)(14.7,5.0)(15.0,5.3)(15.3,5.1)(15.6,5.4)(15.9,5.0)(16.2,4.8)(16.5,4.5)(16.8,5.3)(17.1,5.0)(17.3,5.1)(17.5,2.8)(17.7,3.1)(17.9,2.4)(18.2,2.8)(18.5,2.9)(18.8,2.8)(19.1,2.9)(19.4,3.5)(19.6,4.3)(19.8,4.7)(20.0,6.0)(20.2,6.8)(20.4,7.1)(20.7,7.0)(21.0,6.8)(21.3,7.0)(21.6,6.5)(21.9,6.8)(22.2,6.9)(22.5,6.6)(22.8,6.9)(23.1,7.4)(23.3,6.8)(23.6,7.0)(23.9,6.5)(24.1,4.2)(24.3,4.0)(24.5,3.0)(24.7,1.8)(24.9,2.1)};
\addplot[sr] coordinates {(0,0)(0.7,0)(0.9,3.0)(1.1,4.8)(1.3,5.5)(1.6,5.8)(2.0,5.9)(2.5,6.0)(3.0,6.1)(3.5,6.0)(4.0,6.1)(4.5,6.3)(5.0,6.2)(5.5,6.1)(6.0,6.2)(6.5,6.0)(7.0,6.1)(7.5,6.3)(8.0,6.3)(8.3,6.1)(8.6,6.0)(9.0,6.3)(9.3,6.1)(9.6,6.2)(9.9,6.6)(10.2,6.2)(10.5,6.5)(10.8,6.9)(11.1,7.0)(11.4,7.2)(11.7,6.9)(12.0,7.3)(12.3,7.5)(12.6,7.4)(12.9,7.8)(13.2,8.3)(13.5,8.7)(13.8,8.5)(14.1,8.8)(14.4,8.6)(14.7,9.0)(15.0,9.6)(15.3,9.9)(15.5,9.7)(15.7,9.0)(16.0,9.4)(16.2,8.6)(16.5,9.0)(16.8,9.1)(17.1,9.0)(17.4,9.2)(17.7,9.5)(18.0,9.3)(18.3,9.5)(18.6,9.8)(18.9,9.9)(19.2,10.0)(19.5,10.0)(19.8,10.0)(20.0,9.8)(20.3,10.0)(20.6,9.9)(21.0,10.0)(21.3,9.9)(21.6,9.5)(21.9,9.4)(22.2,9.3)(22.5,9.7)(22.8,9.9)(23.1,10.0)(23.4,9.9)(23.7,9.7)(24.0,9.9)(24.5,10.0)(25.0,10.0)};
\addplot[sg] coordinates {(0,0)(0.8,0)(0.9,0.3)(1.1,0.7)(1.3,0.4)(1.6,0.1)(1.8,0.0)(1.85,2.0)(2.0,4.1)(2.2,2.5)(2.4,1.2)(2.6,0.6)(2.9,0.2)(3.2,0.05)(8.8,0)(8.9,2.0)(9.0,3.3)(9.2,2.3)(9.4,1.3)(9.6,0.6)(9.8,0.2)(10.0,0.05)(25.0,0)};
\end{axis}
% (h)
\begin{axis}[tb, at={(232.12pt,-341.42pt)}, width=127.58pt, height=49.29pt]
\addplot[rr] coordinates {(0.75,0)(0.85,6.5)(1.0,7.1)(1.3,6.8)(1.6,6.6)(1.9,7.3)(2.1,6.4)(2.4,6.8)(2.7,6.0)(3.0,6.5)(3.3,5.8)(3.6,6.3)(3.9,6.0)(4.2,7.0)(4.5,6.2)(4.8,7.0)(5.1,6.5)(5.4,7.2)(5.7,6.2)(6.0,7.4)(6.3,6.0)(6.6,7.4)(6.9,6.5)(7.2,6.8)(7.5,5.8)(7.8,6.4)(8.1,6.8)(8.4,6.2)(8.7,6.5)(9.0,5.8)(9.3,6.6)(9.6,5.7)(9.9,6.2)(10.2,7.0)(10.5,6.0)(10.8,7.2)(11.1,6.3)(11.4,6.9)(11.7,7.3)(12.0,6.6)(12.3,7.0)(12.6,6.2)(12.9,7.1)(13.2,6.5)(13.5,7.2)(13.8,6.2)(14.1,7.0)(14.4,7.8)(14.7,6.5)(15.0,7.5)(15.3,6.6)(15.6,7.2)(15.9,6.4)(16.2,7.0)(16.5,7.3)(16.8,6.6)(17.1,7.5)(17.4,6.8)(17.7,7.3)(18.0,7.8)(18.3,6.5)(18.6,6.9)(18.9,6.1)(19.2,7.0)(19.5,6.5)(19.8,8.0)(20.1,6.2)(20.4,7.3)(20.7,6.3)(21.0,7.1)(21.3,6.6)(21.6,7.0)(21.9,6.2)(22.2,7.5)(22.5,6.9)(22.8,7.3)(23.1,6.3)(23.4,7.2)(23.7,6.5)(24.0,7.3)(24.3,6.8)(24.5,7.5)(24.7,6.9)};
\addplot[rb] coordinates {(0,0)(9.5,0)(9.6,6.5)(9.8,0.8)(10.0,7.5)(10.2,6.0)(10.5,6.6)(10.8,6.0)(11.0,0.7)(11.3,4.2)(11.6,3.5)(11.9,3.0)(12.2,3.8)(12.5,3.5)(12.8,4.0)(13.1,3.2)(13.4,6.0)(13.7,5.5)(13.9,1.5)(14.2,4.0)(14.5,3.5)(14.8,4.6)(15.1,5.0)(15.4,4.2)(15.7,3.0)(16.0,4.2)(16.3,3.5)(16.6,4.0)(16.9,4.6)(17.2,3.2)(17.5,3.4)(17.8,3.8)(18.1,3.3)(18.4,3.0)(18.7,3.2)(19.0,2.8)(19.3,3.0)(19.6,6.2)(19.9,6.5)(20.2,5.5)(20.5,6.3)(20.8,5.2)(21.1,6.0)(21.4,5.3)(21.7,6.4)(22.0,5.5)(22.3,6.0)(22.6,5.3)(22.9,6.6)(23.2,5.2)(23.5,6.0)(23.8,0.2)(24.0,1.0)(24.2,0.3)(24.4,1.2)(24.7,1.0)};
\addplot[rg] coordinates {(0,0)(1.65,0)(1.75,7.6)(1.9,7.5)(2.0,0)(24.7,0)};
\addplot[sb] coordinates {(0,0)(9.5,0)(10.0,1.5)(10.5,2.5)(10.9,3.3)(11.1,3.0)(11.5,3.2)(12.0,3.3)(12.5,3.4)(13.0,3.4)(13.5,3.5)(13.9,3.9)(14.2,3.7)(14.6,3.7)(15.0,3.8)(15.5,4.0)(16.0,3.9)(16.5,3.9)(17.0,3.9)(17.5,4.0)(18.0,3.9)(18.5,3.8)(19.0,3.7)(19.5,3.6)(19.9,3.5)(20.3,4.0)(20.7,4.5)(21.2,4.7)(21.7,4.9)(22.1,5.1)(22.5,5.2)(22.9,5.3)(23.3,5.5)(23.7,5.6)(24.0,5.6)(24.3,4.8)(24.7,3.9)};
\addplot[sr] coordinates {(0,0)(0.75,0)(1.0,2.0)(1.2,3.0)(1.5,4.0)(1.8,4.7)(2.1,5.3)(2.5,5.6)(3.0,5.8)(3.5,5.8)(4.0,5.9)(4.5,6.0)(5.0,6.2)(5.5,6.3)(6.0,6.5)(6.5,6.6)(7.0,6.6)(7.5,6.6)(8.0,6.5)(8.5,6.5)(9.0,6.4)(9.5,6.3)(10.0,6.3)(10.5,6.4)(11.0,6.5)(11.5,6.6)(12.0,6.6)(12.5,6.7)(13.0,6.7)(13.5,6.6)(14.0,6.7)(14.5,6.7)(15.0,6.8)(15.5,6.9)(16.0,6.8)(16.5,6.9)(17.0,6.9)(17.5,7.0)(18.0,7.1)(18.5,6.9)(19.0,6.8)(19.5,6.9)(20.0,6.8)(20.5,6.9)(21.0,6.9)(21.5,6.9)(22.0,6.9)(22.5,7.0)(23.0,7.0)(23.5,6.9)(24.0,7.0)(24.7,7.0)};
\addplot[sg] coordinates {(0,0)(1.6,0)(1.85,1.5)(2.2,1.2)(2.8,0.9)(3.5,0.65)(4.5,0.45)(5.5,0.32)(6.5,0.22)(7.5,0.15)(8.5,0.1)(10.0,0.06)(12.0,0.03)(14.0,0.01)(24.7,0)};
\end{axis}
% captions
\node[anchor=base west, inner sep=0] at (3.18pt,-78.70pt) {\capt{\makebox[146.3pt][s]{(a) no buffer, vtrace, training re-}}};
\node[anchor=base west, inner sep=0] at (3.18pt,-88.24pt) {\capt{sult}};
\node[anchor=base, inner sep=0] at (294.92pt,-83.67pt) {\capt{(b) no buffer, vtrace, test result}};
\node[anchor=base, inner sep=0] at (74.72pt,-165.94pt) {\capt{(c) buffer, vtrace, training result}};
\node[anchor=base, inner sep=0] at (294.92pt,-166.34pt) {\capt{(d) buffer, vtrace, test result}};
\node[anchor=base west, inner sep=0] at (3.18pt,-255.57pt) {\capt{\makebox[146.3pt][s]{(e) no buffer, no vtrace, training}}};
\node[anchor=base west, inner sep=0] at (3.18pt,-265.11pt) {\capt{result}};
\node[anchor=base, inner sep=0] at (294.92pt,-260.93pt) {\capt{(f) no buffer, no vtrace, test result}};
\node[anchor=base west, inner sep=0] at (3.18pt,-355.73pt) {\capt{\makebox[146.3pt][s]{(g) buffer, no vtrace, training re-}}};
\node[anchor=base west, inner sep=0] at (3.18pt,-365.27pt) {\capt{sult}};
\node[anchor=base, inner sep=0] at (294.92pt,-361.89pt) {\capt{(h) buffer, no vtrace, test result}};
\end{tikzpicture}
\end{document}
